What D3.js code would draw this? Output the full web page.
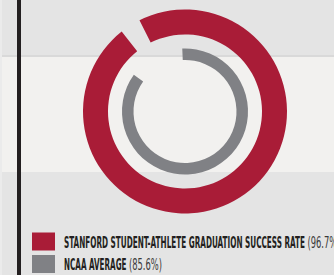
<!DOCTYPE html>
<html>
<head>
<meta charset="UTF-8">
<title>Graduation success rate</title>
<script src="https://cdn.jsdelivr.net/npm/d3@7"></script>
<style>
body { margin: 0; background: #e4e4e4; }
svg { display: block; }
</style>
</head>
<body>
<script>
var labels = ["STANFORD STUDENT-ATHLETE GRADUATION SUCCESS RATE", "NCAA AVERAGE"];
var values = [96.7, 85.6];
var colors = ["#a91c37", "#808185"];

var w = 334, h = 275;
var cx = 185, cy = 111.5;

var svg = d3.select("body").append("svg")
  .attr("width", w)
  .attr("height", h);

// background bands
svg.append("rect").attr("x", 0).attr("y", 0).attr("width", w).attr("height", h).attr("fill", "#e4e4e4");
svg.append("rect").attr("x", 0).attr("y", 55).attr("width", w).attr("height", 2).attr("fill", "#d9d9d9");
svg.append("rect").attr("x", 0).attr("y", 57).attr("width", w).attr("height", 115).attr("fill", "#f2f1ef");
svg.append("rect").attr("x", 0).attr("y", 0).attr("width", 2).attr("height", h).attr("fill", "#ebebeb");
svg.append("rect").attr("x", 17).attr("y", 0).attr("width", 4).attr("height", h).attr("fill", "#231f20");

var angle = d3.scaleLinear().domain([0, 100]).range([0, 2 * Math.PI]);
var deg = Math.PI / 180;

// ring settings: [inner, outer, start offset]
var rings = [
  {inner: 77, outer: 102, start: -26.5 * deg},
  {inner: 51.5, outer: 63, start: -2.5 * deg}
];

var arc = d3.arc();
var g = svg.append("g").attr("transform", "translate(" + cx + "," + cy + ")");

g.selectAll("path")
  .data(values)
  .enter()
  .append("path")
  .attr("d", function(d, i) {
    return arc({
      innerRadius: rings[i].inner,
      outerRadius: rings[i].outer,
      startAngle: rings[i].start,
      endAngle: rings[i].start + angle(d)
    });
  })
  .attr("fill", function(d, i) { return colors[i]; });

// legend
var legendY = [232.5, 255];
var labelW = [241, 62.5];

var leg = svg.selectAll("g.leg")
  .data(values)
  .enter()
  .append("g")
  .attr("class", "leg");

leg.append("rect")
  .attr("x", 32)
  .attr("y", function(d, i) { return legendY[i]; })
  .attr("width", 23)
  .attr("height", 18)
  .attr("fill", function(d, i) { return colors[i]; });

leg.append("text")
  .attr("x", 64)
  .attr("y", function(d, i) { return legendY[i] + 15; })
  .attr("font-family", "'Liberation Sans Narrow', 'DejaVu Sans Condensed', sans-serif")
  .attr("font-weight", "bold")
  .attr("font-size", "15px")
  .attr("fill", "#231f20")
  .attr("textLength", function(d, i) { return labelW[i]; })
  .attr("lengthAdjust", "spacingAndGlyphs")
  .text(function(d, i) { return labels[i]; });

leg.append("text")
  .attr("x", function(d, i) { return 64 + labelW[i] + 2.5; })
  .attr("y", function(d, i) { return legendY[i] + 15; })
  .attr("font-family", "'Liberation Sans Narrow', 'DejaVu Sans Condensed', sans-serif")
  .attr("font-size", "15px")
  .attr("fill", "#3a3a3a")
  .attr("textLength", 33)
  .attr("lengthAdjust", "spacingAndGlyphs")
  .text(function(d) { return "(" + d + "%)"; });
</script>
</body>
</html>
